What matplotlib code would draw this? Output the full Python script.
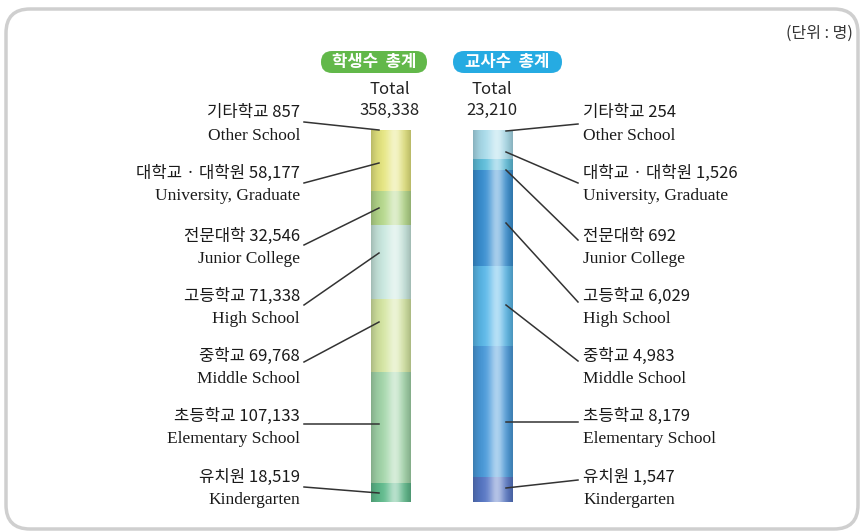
import matplotlib.pyplot as plt
import numpy as np
from matplotlib.patches import FancyBboxPatch, Rectangle

plt.rcParams['font.family'] = ['Noto Sans CJK KR', 'DejaVu Sans']

# 데이터
kor = ["기타학교", "대학교 · 대학원", "전문대학", "고등학교", "중학교", "초등학교", "유치원"]
eng = ["Other School", "University, Graduate", "Junior College", "High School",
       "Middle School", "Elementary School", "Kindergarten"]
students = [857, 58177, 32546, 71338, 69768, 107133, 18519]
teachers = [254, 1526, 692, 6029, 4983, 8179, 1547]
student_total = 358338
teacher_total = 23210

student_colors = ["#e4e47c", "#e6e680", "#b6d98c", "#c9e8df", "#d5e6a2", "#a3d6aa", "#5fbb8c"]
teacher_colors = ["#a9dceb", "#a9dceb", "#5fbfdc", "#3b91d3", "#5bb9ea", "#4a9bdb", "#5878c6"]

# 배치 (픽셀 좌표, 그림 위에서부터)
label_y = [113, 173, 236, 296, 356, 416, 477]
left_tip_y = [130, 163, 208, 253, 322, 424, 493]
right_tip_y = [131, 152, 170, 223, 305, 422, 488]
left_start_y = [122, 183, 245, 305, 362, 424, 487]
right_end_y = [124, 183, 240, 302, 361, 422, 480]

W, H = 864, 532
fig = plt.figure(figsize=(W / 100, H / 100), dpi=100)
bg = fig.add_axes([0, 0, 1, 1])
bg.set_xlim(0, W)
bg.set_ylim(H, 0)
bg.axis("off")

# 테두리
bg.add_patch(FancyBboxPatch((6, 9), 852, 520, boxstyle="round,pad=0,rounding_size=24",
                            facecolor="white", edgecolor="#cfcfcf", linewidth=2.5))

# 막대
x0, x1 = 340, 545
y0, y1 = 130, 502
bx = fig.add_axes([x0 / W, (H - y1) / H, (x1 - x0) / W, (y1 - y0) / H])
bx.axis("off")
width = 0.39

prof = np.linspace(0, 1, 200)
alpha = np.clip(0.55 * np.exp(-((prof - 0.6) / 0.2) ** 2), 0, 1)
shade = np.clip(0.2 * (np.abs(prof - 0.5) * 2) ** 3, 0, 1)
grad_white = np.zeros((1, 200, 4))
grad_white[..., :3] = 1
grad_white[0, :, 3] = alpha
grad_dark = np.zeros((1, 200, 4))
grad_dark[0, :, 3] = shade

for pos, vals, total, cols in [(0, students, student_total, student_colors),
                               (1, teachers, teacher_total, teacher_colors)]:
    shares = np.array(vals) / total
    bottoms = np.concatenate([[0], np.cumsum(shares)[:-1]])
    bx.bar(pos, shares, bottom=bottoms, width=width, color=cols, linewidth=0)
    clip = Rectangle((pos - width / 2, 0), width, shares.sum(), transform=bx.transData)
    for g in (grad_white, grad_dark):
        im = bx.imshow(g, extent=(pos - width / 2, pos + width / 2, shares.sum(), 0),
                       aspect="auto", interpolation="bilinear", zorder=3)
        im.set_clip_path(clip)
bx.set_xlim(-0.5, 1.51)
bx.set_ylim(1, 0)

# 위층: 글자와 지시선
fg = fig.add_axes([0, 0, 1, 1])
fg.set_xlim(0, W)
fg.set_ylim(H, 0)
fg.axis("off")
fg.patch.set_alpha(0)

fg.add_patch(FancyBboxPatch((321, 51), 106, 22, boxstyle="round,pad=0,rounding_size=11",
                            facecolor="#62b84a", edgecolor="none"))
fg.add_patch(FancyBboxPatch((453, 51), 109, 22, boxstyle="round,pad=0,rounding_size=11",
                            facecolor="#26abe2", edgecolor="none"))
fg.text(374, 62, "학생수  총계", ha="center", va="center", color="white", fontsize=12, fontweight="bold")
fg.text(507, 62, "교사수  총계", ha="center", va="center", color="white", fontsize=12, fontweight="bold")
fg.text(390, 89, "Total", ha="center", va="center", fontsize=12, color="#222222")
fg.text(390, 110, f"{student_total:,}", ha="center", va="center", fontsize=12, color="#222222")
fg.text(492, 89, "Total", ha="center", va="center", fontsize=12, color="#222222")
fg.text(492, 110, f"{teacher_total:,}", ha="center", va="center", fontsize=12, color="#222222")

fg.text(853, 33, "(단위 : 명)", ha="right", va="center", fontsize=11.5, color="#333333")

for i in range(len(kor)):
    y = label_y[i]
    fg.text(300, y, f"{kor[i]} {students[i]:,}", ha="right", va="center", fontsize=12,
            fontweight="medium", color="#1a1a1a")
    fg.text(300, y + 23, eng[i], ha="right", va="center", fontsize=12.5, color="#1a1a1a",
            family="Liberation Serif")
    fg.text(583, y, f"{kor[i]} {teachers[i]:,}", ha="left", va="center", fontsize=12,
            fontweight="medium", color="#1a1a1a")
    fg.text(583, y + 23, eng[i], ha="left", va="center", fontsize=12.5, color="#1a1a1a",
            family="Liberation Serif")
    fg.plot([304, 379], [left_start_y[i], left_tip_y[i]], color="#333333", lw=1.1)
    fg.plot([506, 578], [right_tip_y[i], right_end_y[i]], color="#333333", lw=1.1)

fig.savefig("out.png", dpi=100)
